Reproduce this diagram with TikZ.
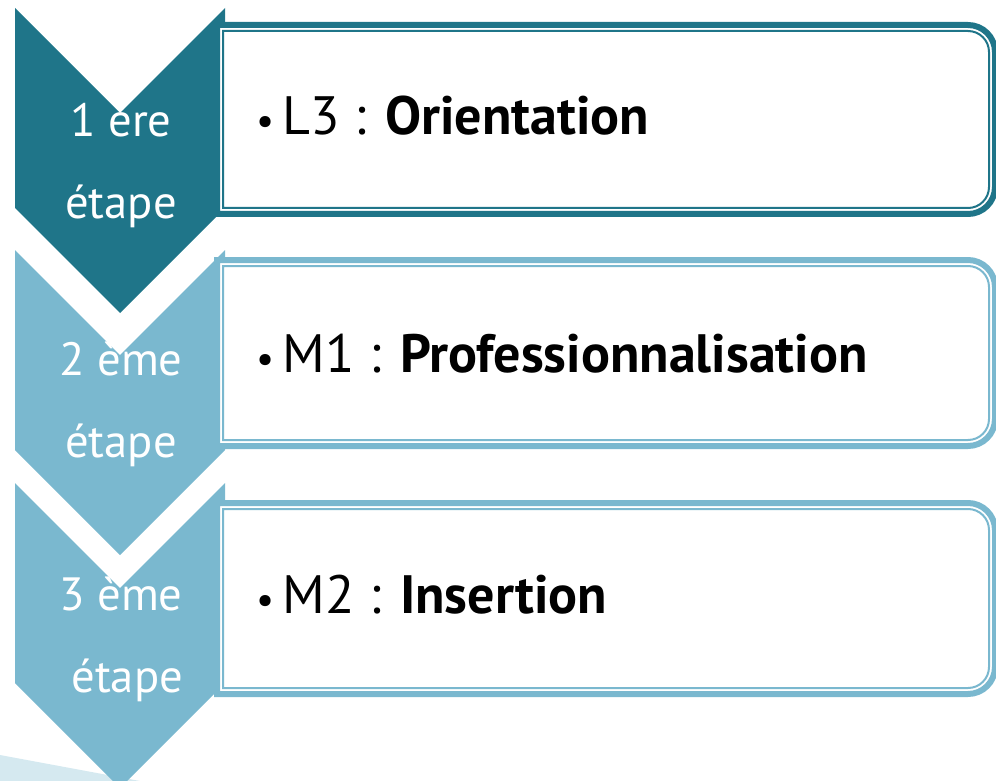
\documentclass[tikz,border=0pt]{standalone}
\usepackage{fontspec}
\setmainfont{PT Sans}
\definecolor{darkteal}{HTML}{1F7589}
\definecolor{lightteal}{HTML}{7AB8CF}
\definecolor{paleteal}{HTML}{D5E9F0}

% chevron: top y, colour
\newcommand{\chevronshape}[2]{
  \fill[#2] (15,#1) -- (120,#1+105) -- (225,#1) -- (225,#1+200)
    -- (120,#1+305) -- (15,#1+200) -- cycle;
}
% box: top y, bottom y, colour
\newcommand{\stagebox}[3]{
  \draw[#3,line width=4.5pt,fill=white] (217,#1+3) -- (968,#1+3)
    arc[start angle=-90,end angle=0,radius=27] -- (995,#2-30)
    arc[start angle=0,end angle=90,radius=27] -- (217,#2-3) -- cycle;
  \draw[#3,line width=1.5pt] (223,#1+9) -- (968,#1+9)
    arc[start angle=-90,end angle=0,radius=21] -- (989,#2-30)
    arc[start angle=0,end angle=90,radius=21] -- (223,#2-9) -- cycle;
}
\newcommand{\itembullet}{{\fontsize{30}{30}\selectfont•}\hspace{0.15em}}

\begin{document}
\begin{tikzpicture}[x=0.75pt,y=-0.75pt,
  step label/.style={text=white,font=\fontsize{35}{61.5}\selectfont,align=center},
  item text/.style={anchor=base west,inner sep=0pt,font=\fontsize{40.5}{44}\selectfont}]
  \useasboundingbox (0,0) rectangle (996,781);
  \clip (0,0) rectangle (996,781);

  \fill[paleteal] (0,755) -- (140,781) -- (0,781) -- cycle;

  \chevronshape{8}{darkteal}
  \chevronshape{250}{lightteal}
  \chevronshape{483}{lightteal}

  \stagebox{22}{217}{darkteal}
  \stagebox{257}{449}{lightteal}
  \stagebox{500}{697}{lightteal}

  \node[step label] (step1) at (121,165) {1 ère\\étape};
  \node[step label] (step2) at (121,404) {2 ème\\étape};
  \node[step label] (step3) at (121,639) {3 ème\\\ étape};

  \node[item text] (item1) at (256,135) {\itembullet L3 : \textbf{Orientation}};
  \node[item text] (item2) at (256,372) {\itembullet M1 : \textbf{Professionnalisation}};
  \node[item text] (item3) at (256,613) {\itembullet M2 : \textbf{Insertion}};
\end{tikzpicture}
\end{document}
